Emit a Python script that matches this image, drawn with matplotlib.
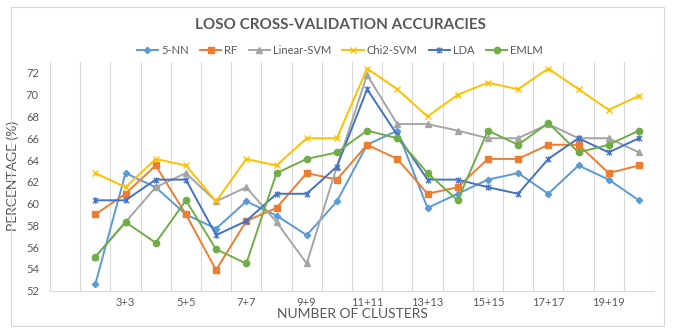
import matplotlib
matplotlib.use('Agg')
import matplotlib.pyplot as plt
import numpy as np
from matplotlib.path import Path
from matplotlib.patches import Rectangle

plt.rcParams['font.family'] = ['Lato', 'DejaVu Sans']

# cluster settings, 2+2 .. 20+20
clusters = ['%d+%d' % (k, k) for k in range(2, 21)]

knn5 = [52.6, 62.8, 61.5, 59.0, 57.7, 60.2, 58.9, 57.1, 60.2, 65.4,
        66.7, 59.6, 60.9, 62.2, 62.8, 60.9, 63.5, 62.2, 60.3]
rf = [59.0, 60.9, 63.5, 59.0, 53.9, 58.4, 59.6, 62.8, 62.2, 65.4,
      64.1, 60.9, 61.5, 64.1, 64.1, 65.4, 65.4, 62.8, 63.5]
linear_svm = [55.1, 58.3, 61.5, 62.8, 60.2, 61.5, 58.3, 54.5, 63.4, 71.8,
              67.3, 67.3, 66.7, 66.0, 66.0, 67.3, 66.0, 66.0, 64.7]
chi2_svm = [62.8, 61.5, 64.1, 63.5, 60.2, 64.1, 63.5, 66.0, 66.0, 72.4,
            70.5, 68.0, 70.0, 71.1, 70.5, 72.4, 70.5, 68.6, 69.9]
lda = [60.3, 60.3, 62.2, 62.2, 57.1, 58.4, 60.9, 60.9, 63.4, 70.5,
       66.3, 62.2, 62.2, 61.5, 60.9, 64.1, 66.0, 64.7, 66.0]
emlm = [55.1, 58.3, 56.4, 60.3, 55.8, 54.5, 62.8, 64.1, 64.7, 66.7,
        66.0, 62.8, 60.3, 66.7, 65.4, 67.4, 64.7, 65.4, 66.7]

# excel style "star" marker: x with a vertical bar
star = Path([(-1, -1), (1, 1), (-1, 1), (1, -1), (0, -1.2), (0, 1.2)],
            [Path.MOVETO, Path.LINETO, Path.MOVETO, Path.LINETO, Path.MOVETO, Path.LINETO])

series = [
    ('5-NN', knn5, '#5B9BD5', 'D', 3.2),
    ('RF', rf, '#ED7D31', 's', 4.2),
    ('Linear-SVM', linear_svm, '#A5A5A5', '^', 4.5),
    ('Chi2-SVM', chi2_svm, '#FFC000', 'x', 4.5),
    ('LDA', lda, '#4472C4', star, 4.5),
    ('EMLM', emlm, '#70AD47', 'o', 4.5),
]

fig = plt.figure(figsize=(6.75, 3.3), dpi=100)
ax = fig.add_axes([50/675, 1-290.7/330, 604/675, (290.7-62)/330])

x = np.arange(1, len(clusters)+1)
for name, vals, col, mk, ms in series:
    ax.plot(x, vals, color=col, lw=1.4, marker=mk, markersize=ms,
            markeredgewidth=1.0, label=name)

ax.set_xlim(-0.5, len(clusters)+0.5)
ax.set_ylim(52, 73)
ax.set_yticks(np.arange(52, 73, 2))
ax.set_xticks(x[1::2])
ax.set_xticklabels(clusters[1::2])

for b in np.arange(-0.5, len(clusters)+1, 1):
    ax.axvline(b, color='#D9D9D9', lw=0.8, zorder=0)

for s in ['top', 'right', 'left']:
    ax.spines[s].set_visible(False)
ax.spines['bottom'].set_color('#D9D9D9')
ax.tick_params(length=0, labelsize=8, colors='#595959')
ax.tick_params(axis='x', pad=4.5)
ax.tick_params(axis='y', pad=8)

ax.set_xlabel('NUMBER OF CLUSTERS', fontsize=10, color='#595959', labelpad=0)
ax.set_ylabel('PERCENTAGE (%)', fontsize=10, color='#595959')
ax.yaxis.set_label_coords(-0.052, 0.5)

fig.text(340/675, 1-25/330, 'LOSO CROSS-VALIDATION ACCURACIES', ha='center', va='center',
         fontsize=11, fontweight='bold', color='#595959')

ax.legend(loc='center', bbox_to_anchor=(340/675, 1-50/330), bbox_transform=fig.transFigure,
          ncol=6, frameon=False, fontsize=8, labelcolor='#595959', handlelength=1.9,
          columnspacing=1.0, handletextpad=0.3)

fig.add_artist(Rectangle((11/675, 4/330), 653/675, 319/330, transform=fig.transFigure,
                         fill=False, edgecolor='#D9D9D9', lw=0.8))

fig.savefig('out.png', dpi=100)
